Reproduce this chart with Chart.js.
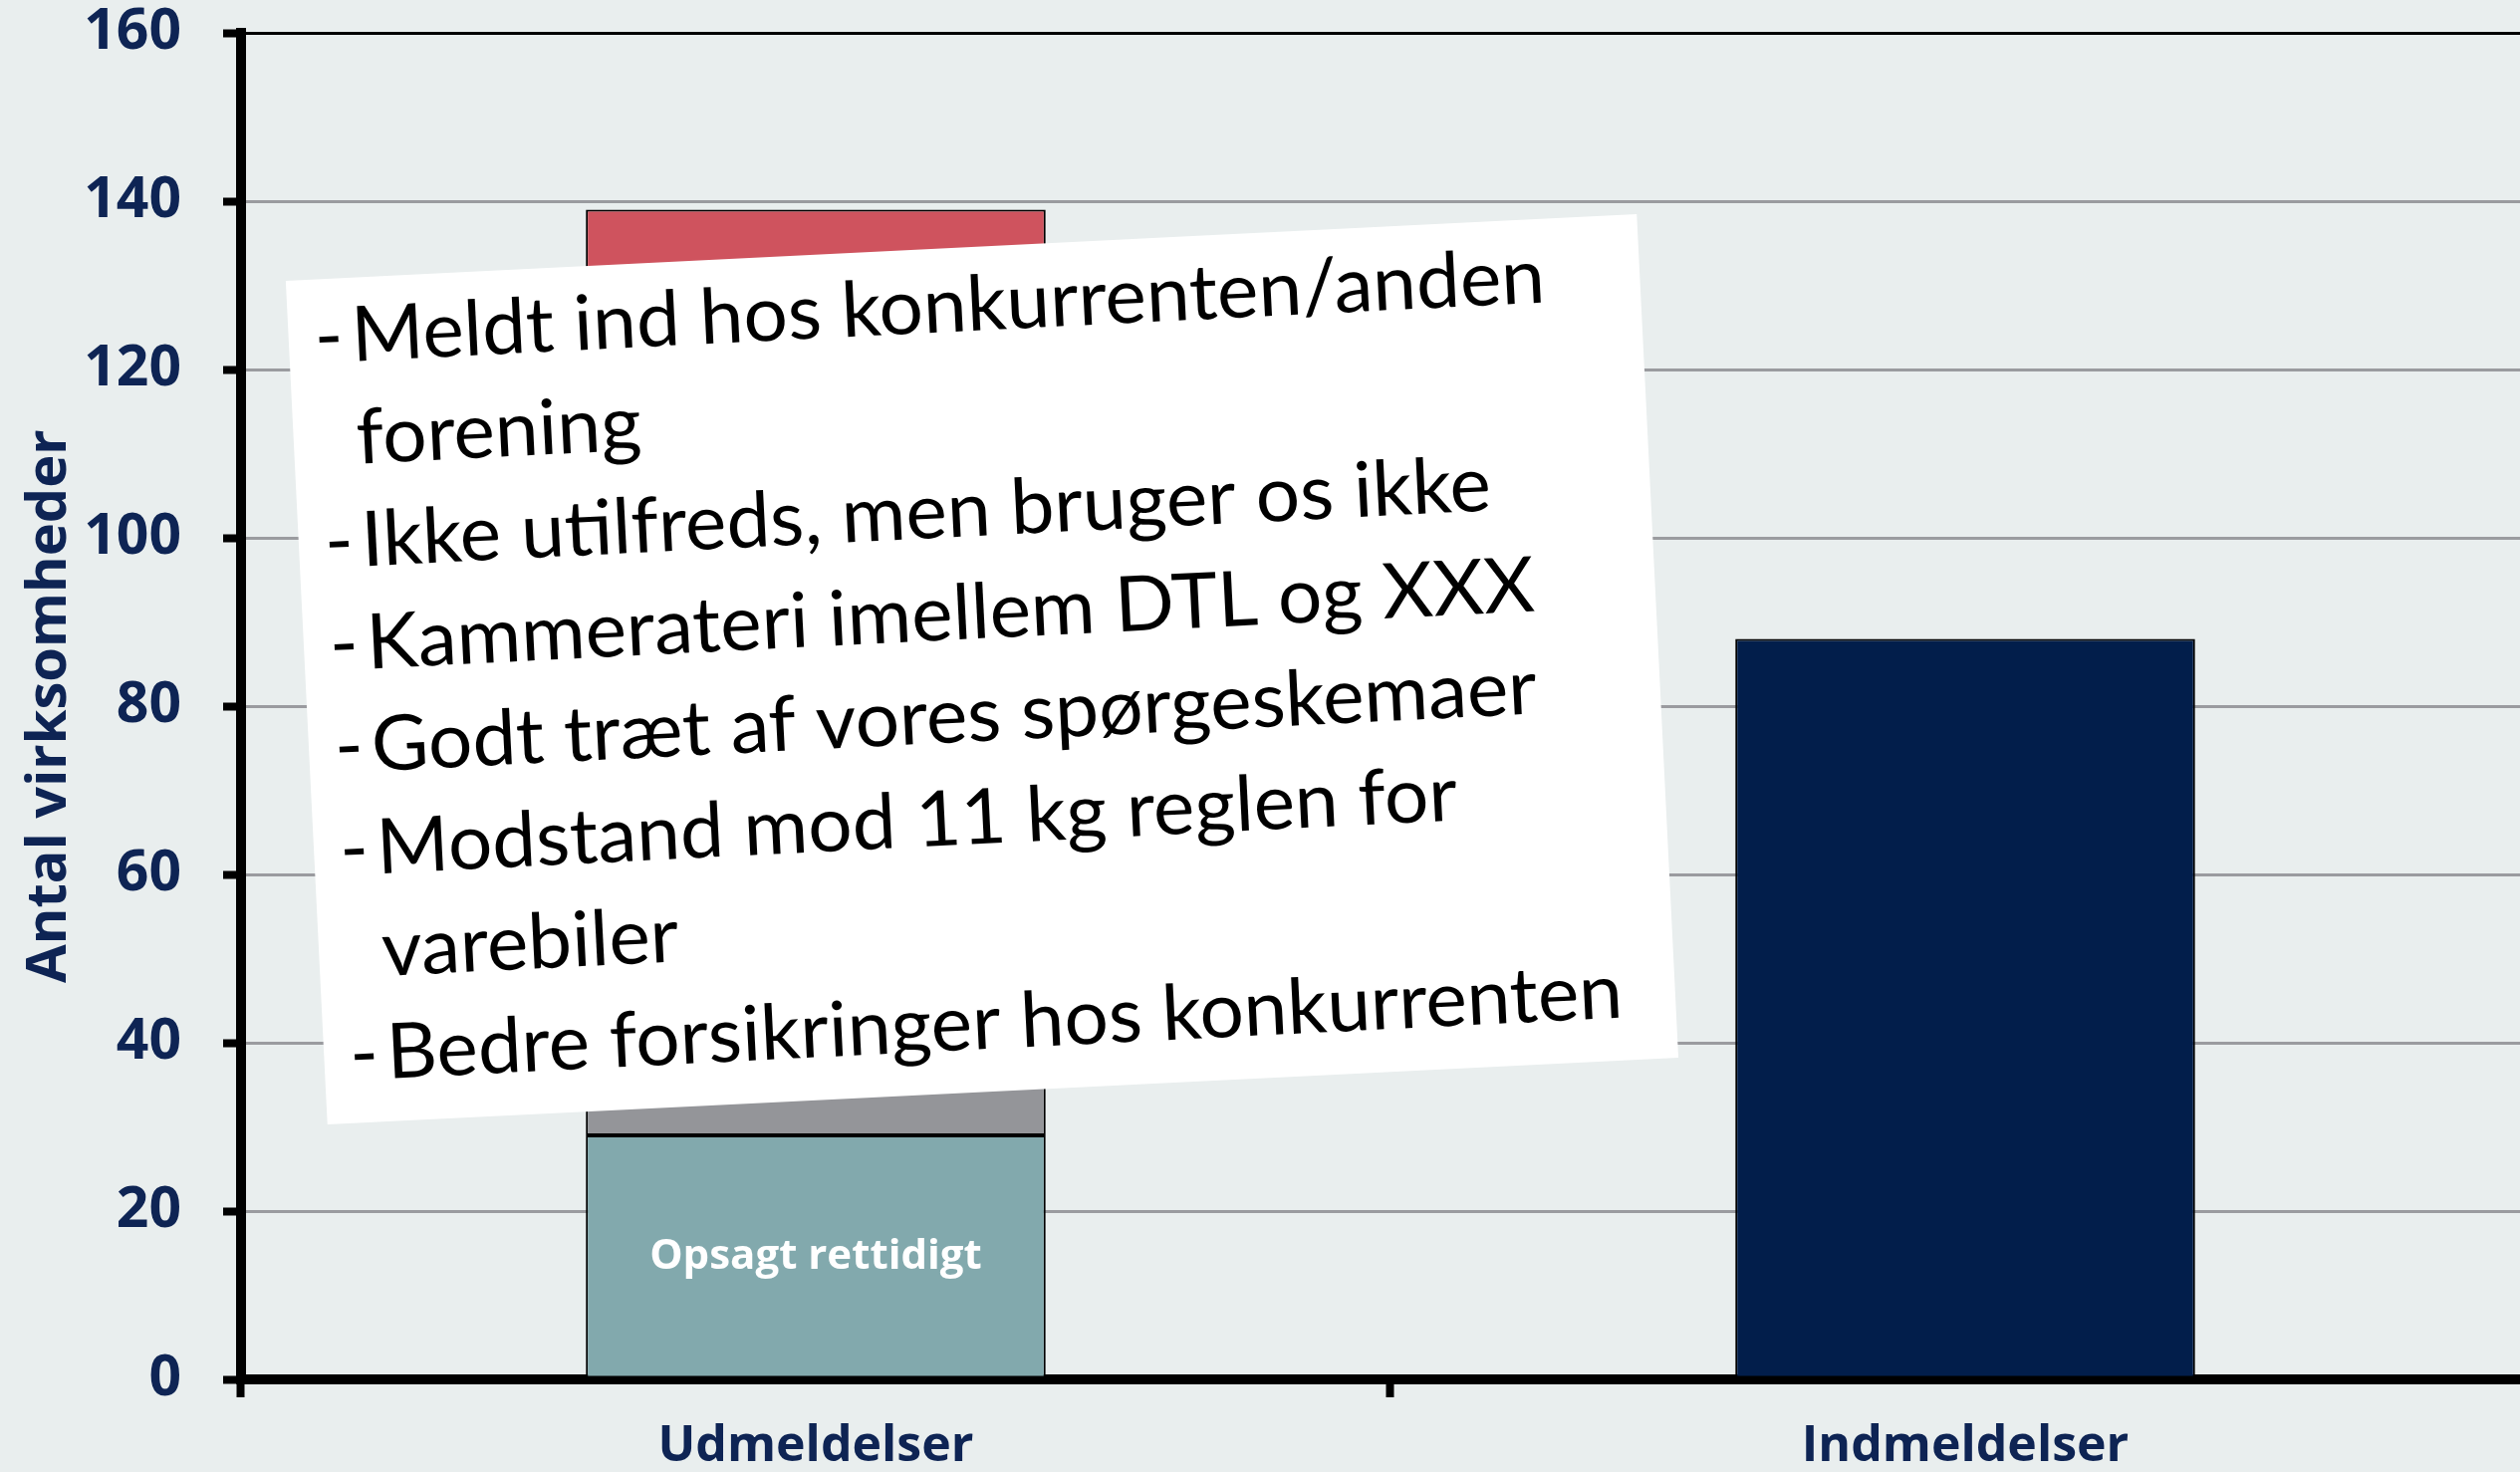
<!DOCTYPE html>
<html lang="da">
<head>
<meta charset="utf-8">
<title>Udmeldelser og indmeldelser</title>
<script src="https://cdn.jsdelivr.net/npm/chart.js@4/dist/chart.umd.min.js"></script>
<style>
  html, body { margin: 0; padding: 0; overflow: hidden; background: #E9EEEE; }
  /* canvas is a bit larger than the window so the plot area lands where the original has it */
  #wrap { width: 2550px; height: 1546px; margin-top: -43px; position: relative; }
</style>
</head>
<body>
<div id="wrap"><canvas id="chart"></canvas></div>
<script>
// Data.
const categories = ["Udmeldelser", "Indmeldelser"];
const opsagtRettidigt = [29, null];
const graaAndel = [45, null];   // hidden behind the note box, estimated
const roedAndel = [65, null];   // top reaches ~139
const indmeldelser = [null, 88];
const yTicks = [0, 20, 40, 60, 80, 100, 120, 140, 160];
const insideLabel = "Opsagt rettidigt";
const noteLines = [
  "- Meldt ind hos konkurrenten/anden",
  "  forening",
  "- Ikke utilfreds, men bruger os ikke",
  "- Kammerateri imellem DTL og XXX",
  "- Godt træt af vores spørgeskemaer",
  "- Modstand mod 11 kg reglen for",
  "  varebiler",
  "- Bedre forsikringer hos konkurrenten",
];

const NAVY = "#0E2454";
const BOLD = (size) => ({ family: "'Open Sans'", weight: "bold", size });

// White label centred in the first (teal) segment.
const insideLabelPlugin = {
  id: "insideLabel",
  afterDatasetsDraw(chart) {
    const bar = chart.getDatasetMeta(0).data[0];
    if (!bar) return;
    const { x, y, base } = bar.getProps(["x", "y", "base"], true);
    const ctx = chart.ctx;
    ctx.save();
    ctx.fillStyle = "#fff";
    ctx.font = "bold 42px 'Open Sans'";
    ctx.textAlign = "center";
    ctx.textBaseline = "middle";
    ctx.fillText(insideLabel, x, (y + base) / 2);
    ctx.restore();
  },
};

// Slightly tilted white note pasted over the chart.
const notePlugin = {
  id: "note",
  afterDraw(chart) {
    const { ctx, scales: { x, y } } = chart;
    const cx = x.getPixelForValue(0) + 167;
    const cy = y.getPixelForValue(84.4);
    const w = 1358, h = 848, ang = -2.83 * Math.PI / 180;
    ctx.save();
    ctx.translate(cx, cy);
    ctx.rotate(ang);
    ctx.translate(-w / 2, -h / 2);
    ctx.fillStyle = "#fff";
    ctx.fillRect(0, 0, w, h);
    ctx.fillStyle = "#000";
    ctx.font = "400 77px Lato";
    ctx.textBaseline = "alphabetic";
    const texts = noteLines.map(l => l.replace(/^- /, "").trim());
    const longest = Math.max(...texts.map(t => ctx.measureText(t).width));
    const sx = 1242 / longest;
    noteLines.forEach((line, i) => {
      const yy = 84 + i * 103;
      ctx.save();
      ctx.translate(63, yy);
      ctx.scale(sx, 1);
      ctx.fillText(texts[i], 0, 0);
      ctx.restore();
      if (line.startsWith("- ")) ctx.fillText("-", 26, yy);
    });
    ctx.restore();
  },
};

const barStyle = { borderColor: "#000", borderWidth: 2, borderSkipped: false, barPercentage: 0.4, categoryPercentage: 1.0 };

new Chart(document.getElementById("chart"), {
  type: "bar",
  data: {
    labels: categories,
    datasets: [
      { label: "Opsagt rettidigt", data: opsagtRettidigt, backgroundColor: "#82A9AD", ...barStyle },
      { label: "Grå andel", data: graaAndel, backgroundColor: "#949599", ...barStyle },
      { label: "Rød andel", data: roedAndel, backgroundColor: "#CF535E", ...barStyle },
      { label: "Indmeldelser", data: indmeldelser, backgroundColor: "#021E4B", ...barStyle },
    ],
  },
  options: {
    responsive: true, maintainAspectRatio: false,
    animation: false,
    layout: { padding: { left: 16, right: 0, top: 0, bottom: 0 } },
    plugins: { legend: { display: false }, tooltip: { enabled: false } },
    scales: {
      x: {
        stacked: true,
        grid: { drawOnChartArea: false, drawTicks: true, tickLength: 18, tickColor: "#000", tickWidth: 8, offset: true },
        border: { display: true, color: "#000", width: 10 },
        ticks: { color: NAVY, font: BOLD(50), padding: 20 },
      },
      y: {
        stacked: true, min: 0, max: 160,
        afterBuildTicks: s => { s.ticks = yTicks.map(v => ({ value: v })); },
        grid: {
          color: c => (c.tick && c.tick.value === 160 ? "#000" : "#9A9B9F"),
          lineWidth: 3, tickLength: 18, tickColor: "#000", tickWidth: 8,
        },
        border: { color: "#000", width: 10 },
        ticks: { color: NAVY, font: BOLD(57), padding: 42 },
        title: {
          display: true, text: "Antal virksomheder", color: NAVY,
          font: BOLD(56), padding: { top: 0, bottom: -41 },
        },
      },
    },
  },
  plugins: [insideLabelPlugin, notePlugin],
});
</script>
</body>
</html>
